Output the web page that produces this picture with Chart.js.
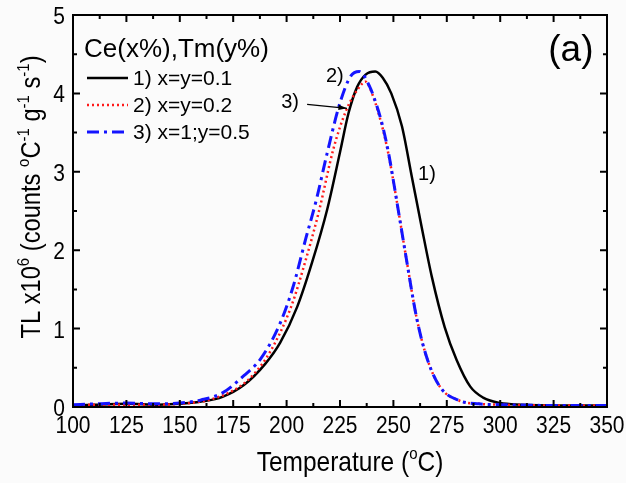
<!DOCTYPE html>
<html>
<head>
<meta charset="utf-8">
<script src="https://cdn.jsdelivr.net/npm/chart.js@4.4.0/dist/chart.umd.min.js"></script>
<style>
  html, body { margin: 0; padding: 0; background: #fbfbfb; }
</style>
</head>
<body>
<canvas id="graph" width="626" height="483"></canvas>
<script>
const FONT = '"Liberation Sans", Arial, sans-serif';

// 1) x=y=0.1
const temp1 = [100, 110, 125, 140, 150, 160, 170, 180, 190, 197, 205, 212, 219, 225, 229, 233, 237, 241.5, 245, 249, 254, 258.6, 263.2, 268, 274, 279.6, 286, 292, 300, 310, 325, 350];
const tl1 = [0.02, 0.03, 0.04, 0.03, 0.04, 0.07, 0.13, 0.28, 0.55, 0.82, 1.28, 1.85, 2.52, 3.25, 3.75, 4.08, 4.24, 4.28, 4.2, 4.0, 3.58, 2.94, 2.3, 1.66, 1.02, 0.6, 0.26, 0.12, 0.05, 0.03, 0.02, 0.02];

// 2) x=y=0.2
const temp2 = [100, 110, 125, 140, 150, 165, 178, 185, 192, 202, 209, 215, 222, 228, 233, 237, 240, 245, 248, 251, 256, 261, 266, 272, 281, 290, 300, 325, 350];
const tl2 = [0.02, 0.03, 0.03, 0.03, 0.04, 0.1, 0.26, 0.43, 0.69, 1.27, 1.88, 2.48, 3.3, 3.79, 4.04, 4.15, 4.0, 3.55, 3.18, 2.72, 1.9, 1.12, 0.6, 0.25, 0.08, 0.04, 0.03, 0.02, 0.02];

// 3) x=1;y=0.5
const temp3 = [100, 110, 125, 140, 150, 160, 170, 180, 188, 197, 203, 209, 214, 219, 225, 230, 234, 239, 242, 245, 248, 251, 256, 261, 266, 272, 281, 290, 300, 325, 350];
const tl3 = [0.03, 0.04, 0.05, 0.04, 0.05, 0.09, 0.18, 0.4, 0.62, 1.07, 1.53, 2.15, 2.65, 3.24, 3.88, 4.22, 4.28, 4.08, 3.86, 3.58, 3.2, 2.72, 1.9, 1.12, 0.6, 0.25, 0.08, 0.04, 0.03, 0.02, 0.02];

const seriesNames = ['1) x=y=0.1', '2) x=y=0.2', '3) x=1;y=0.5'];
const legendTitle = 'Ce(x%),Tm(y%)';

const toPts = (xs, ys) => xs.map((t, i) => ({ x: t, y: ys[i] }));

function drawRich(ctx, parts, x, y, size) {
  let cx = x;
  for (const [t, sup] of parts) {
    ctx.font = (sup ? Math.round(size * 0.62) : size) + 'px ' + FONT;
    ctx.fillText(t, cx, sup ? y - size * 0.42 : y);
    cx += ctx.measureText(t).width;
  }
}
function richWidth(ctx, parts, size) {
  let w = 0;
  for (const [t, sup] of parts) {
    ctx.font = (sup ? Math.round(size * 0.62) : size) + 'px ' + FONT;
    w += ctx.measureText(t).width;
  }
  return w;
}
// text a bit taller than wide, like the original
function tallText(ctx, txt, x, y, size, stretch, align) {
  ctx.save();
  ctx.translate(x, y);
  ctx.scale(1, stretch);
  ctx.font = size + 'px ' + FONT;
  ctx.textAlign = align;
  ctx.textBaseline = 'alphabetic';
  ctx.fillText(txt, 0, 0);
  ctx.restore();
}

const extras = {
  id: 'extras',
  beforeDraw(chart) {
    const ctx = chart.ctx;
    ctx.save();
    ctx.fillStyle = '#fbfbfb';
    ctx.fillRect(0, 0, chart.width, chart.height);
    ctx.restore();
  },
  afterDraw(chart) {
    const { ctx, chartArea: a, scales: { x, y } } = chart;
    ctx.save();
    ctx.strokeStyle = '#000';
    ctx.fillStyle = '#000';
    ctx.lineWidth = 2;
    ctx.setLineDash([]);
    ctx.strokeRect(a.left, a.top, a.right - a.left, a.bottom - a.top);

    // inside ticks on all four sides
    for (let t = 100; t <= 350; t += 12.5) {
      const px = x.getPixelForValue(t);
      const len = t % 25 === 0 ? 7 : 4;
      ctx.beginPath();
      ctx.moveTo(px, a.bottom); ctx.lineTo(px, a.bottom - len);
      ctx.moveTo(px, a.top); ctx.lineTo(px, a.top + len);
      ctx.stroke();
    }
    for (let v = 0; v <= 5; v += 0.5) {
      const py = y.getPixelForValue(v);
      const len = v % 1 === 0 ? 7 : 4;
      ctx.beginPath();
      ctx.moveTo(a.left, py); ctx.lineTo(a.left + len, py);
      ctx.moveTo(a.right, py); ctx.lineTo(a.right - len, py);
      ctx.stroke();
    }

    // tick labels
    x.ticks.forEach(tk => {
      tallText(ctx, String(tk.value), x.getPixelForValue(tk.value), a.bottom + 26, 21, 1.17, 'center');
    });
    y.ticks.forEach(tk => {
      tallText(ctx, String(tk.value), a.left - 8, y.getPixelForValue(tk.value) + 9, 21, 1.17, 'right');
    });

    // axis titles
    ctx.textBaseline = 'alphabetic';
    ctx.textAlign = 'left';
    const xt = [['Temperature (', 0], ['o', 1], ['C)', 0]];
    const xw = richWidth(ctx, xt, 24.5);
    ctx.save();
    ctx.translate(350, 471);
    ctx.scale(1, 1.15);
    drawRich(ctx, xt, -xw / 2, 0, 24.5);
    ctx.restore();

    const yt = [['TL x10', 0], ['6', 1], [' (counts ', 0], ['o', 1], ['C', 0], ['-1', 1], [' g', 0], ['-1', 1], [' s', 0], ['-1', 1], [')', 0]];
    const yw = richWidth(ctx, yt, 23.7);
    ctx.save();
    ctx.translate(40, 197);
    ctx.rotate(-Math.PI / 2);
    ctx.scale(1, 1.15);
    drawRich(ctx, yt, -yw / 2, 0, 23.7);
    ctx.restore();

    // legend
    ctx.font = '26px ' + FONT;
    ctx.fillText(legendTitle, 84, 57);
    const rows = [78, 105, 132];
    chart.data.datasets.forEach((ds, i) => {
      ctx.save();
      ctx.strokeStyle = ds.borderColor;
      ctx.lineWidth = ds.borderWidth;
      ctx.setLineDash(ds.borderDash || []);
      ctx.beginPath();
      ctx.moveTo(87, rows[i]); ctx.lineTo(128, rows[i]);
      ctx.stroke();
      ctx.restore();
      ctx.font = '21px ' + FONT;
      ctx.textBaseline = 'middle';
      ctx.fillText(seriesNames[i], 133, rows[i] + 1);
    });

    // annotations
    ctx.textAlign = 'center';
    ctx.textBaseline = 'middle';
    ctx.font = '20px ' + FONT;
    ctx.fillText('2)', x.getPixelForValue(222.6), y.getPixelForValue(4.21));
    ctx.fillText('3)', x.getPixelForValue(201.6), y.getPixelForValue(3.88));
    ctx.fillText('1)', x.getPixelForValue(265.7), y.getPixelForValue(2.96));
    ctx.font = '37px ' + FONT;
    ctx.fillText('(a)', x.getPixelForValue(333.1), y.getPixelForValue(4.54));

    // arrow to curve 3
    const x0 = x.getPixelForValue(209.6), y0 = y.getPixelForValue(3.86);
    const x1 = x.getPixelForValue(228.3), y1 = y.getPixelForValue(3.81);
    ctx.lineWidth = 1.2;
    ctx.beginPath();
    ctx.moveTo(x0, y0); ctx.lineTo(x1, y1);
    ctx.stroke();
    const ang = Math.atan2(y1 - y0, x1 - x0);
    ctx.beginPath();
    ctx.moveTo(x1, y1);
    ctx.lineTo(x1 - 9 * Math.cos(ang - 0.3), y1 - 9 * Math.sin(ang - 0.3));
    ctx.lineTo(x1 - 9 * Math.cos(ang + 0.3), y1 - 9 * Math.sin(ang + 0.3));
    ctx.closePath();
    ctx.fill();
    ctx.restore();
  }
};

const data = {
  datasets: [
    {
      label: seriesNames[0],
      data: toPts(temp1, tl1),
      borderColor: '#000000',
      borderWidth: 2.5,
      order: 3
    },
    {
      label: seriesNames[1],
      data: toPts(temp2, tl2),
      borderColor: '#ff1a1a',
      borderWidth: 2.5,
      borderDash: [2, 3],
      order: 2
    },
    {
      label: seriesNames[2],
      data: toPts(temp3, tl3),
      borderColor: '#1414ff',
      borderWidth: 3,
      borderDash: [12, 5, 3, 5],
      order: 1
    }
  ]
};

const config = {
  type: 'line',
  data: data,
  options: {
    responsive: false,
    animation: false,
    layout: { padding: { top: 15, right: 19, left: 0, bottom: 0 } },
    elements: {
      point: { radius: 0 },
      line: { cubicInterpolationMode: 'monotone', fill: false }
    },
    plugins: { legend: { display: false }, tooltip: { enabled: false } },
    scales: {
      x: {
        type: 'linear',
        min: 100,
        max: 350,
        grid: { display: false, drawTicks: false },
        border: { display: false },
        ticks: { stepSize: 25, display: false, autoSkip: false },
        afterFit: (s) => { s.height = 76; s.paddingLeft = 0; s.paddingRight = 0; }
      },
      y: {
        min: 0,
        max: 5,
        grid: { display: false, drawTicks: false },
        border: { display: false },
        ticks: { stepSize: 1, display: false },
        afterFit: (s) => { s.width = 73; s.paddingTop = 0; s.paddingBottom = 0; }
      }
    }
  },
  plugins: [extras]
};

const myChart = new Chart(document.getElementById('graph'), config);
</script>
</body>
</html>
